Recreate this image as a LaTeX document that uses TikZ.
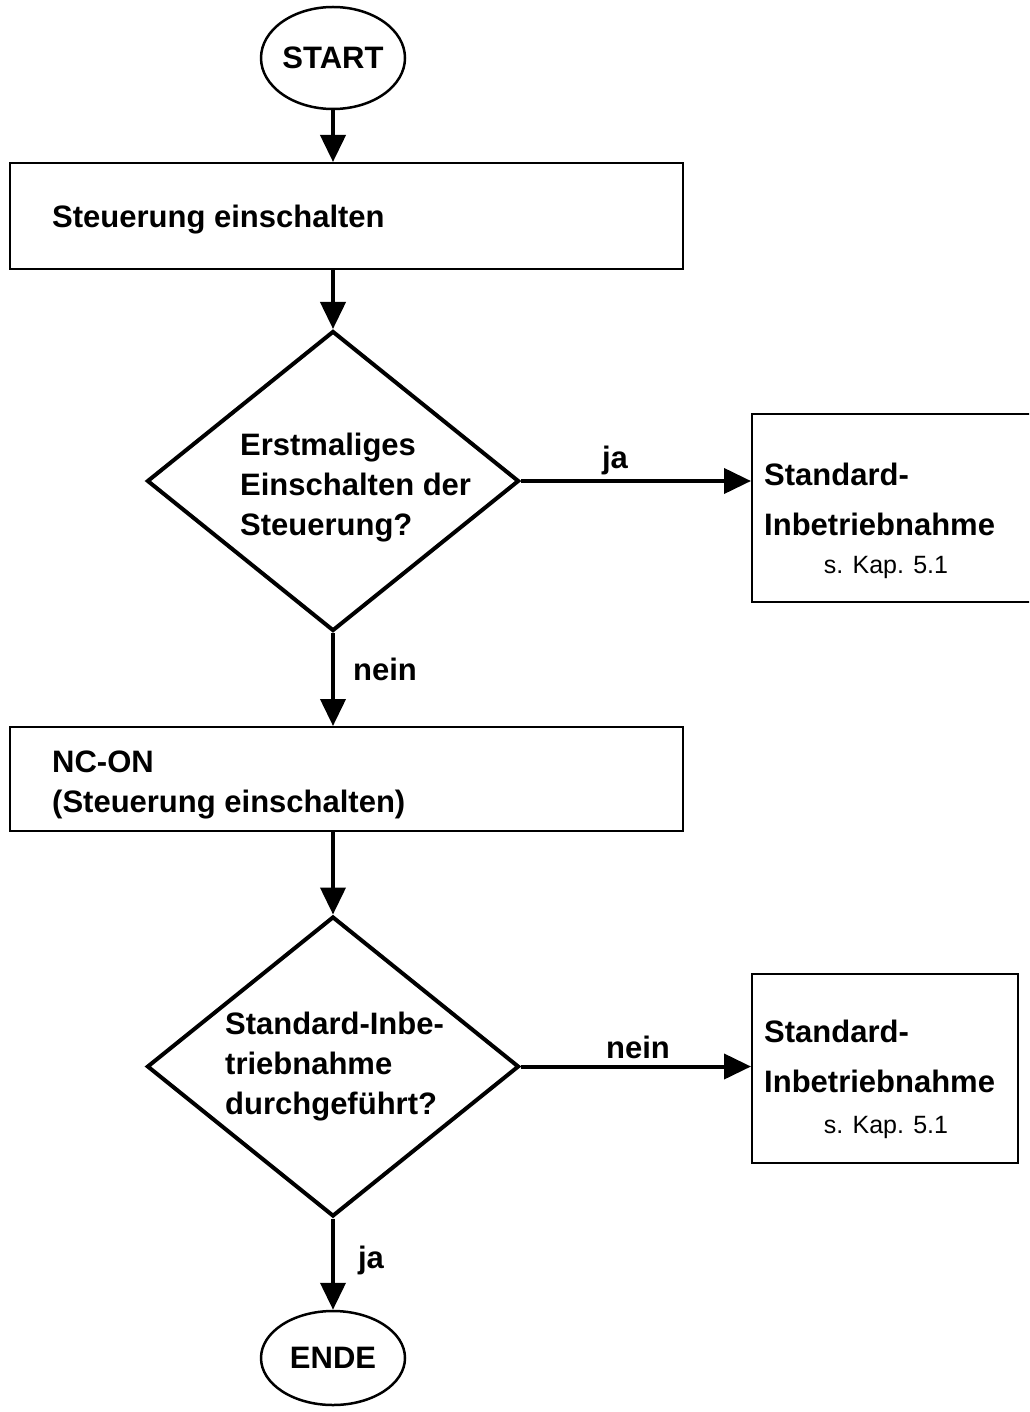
\documentclass[tikz,border=0pt]{standalone}
\usepackage{fontspec}
\setmainfont{Liberation Sans}
\usetikzlibrary{shapes.geometric,arrows.meta}
\begin{document}
\begin{tikzpicture}[x=1pt,y=-1pt,
  big/.style={font=\bfseries\fontsize{31}{40}\selectfont},
  bigwide/.style={font=\bfseries\fontsize{31}{50}\selectfont},
  small/.style={font=\fontsize{25}{30}\selectfont},
  terminal/.style={ellipse,draw,line width=2.5pt,minimum width=144pt,inner sep=0pt,big},
  stepbox/.style={rectangle,draw,line width=2pt,inner sep=0pt},
  decision/.style={diamond,draw,line width=4pt,inner sep=0pt,minimum width=372pt,minimum height=300pt},
  flow/.style={line width=4pt,-{Triangle[width=25pt,length=27pt]}},
  txt/.style={inner sep=0pt,anchor=base west,align=left,big},
  lbl/.style={inner sep=0pt,anchor=base,big}]
\useasboundingbox (0,0) rectangle (1029,1412);
\clip (0,0) rectangle (1029,1412);

% terminals
\node[terminal,minimum height=102pt] (start) at (333,58) {START};
\node[terminal,minimum height=94pt] (ende) at (333,1358) {ENDE};

% process boxes (multi-line texts are placed by the baseline of their last line)
\node[stepbox,minimum width=673pt,minimum height=106pt] (box1) at (346.5,216) {};
\node[txt] (box1t) at (52,228) {Steuerung einschalten};
\node[stepbox,minimum width=673pt,minimum height=104pt] (box2) at (346.5,779) {};
\node[txt] (box2t) at (52,812) {NC-ON\\(Steuerung einschalten)};

% decisions
\node[decision] (q1) at (333,481) {};
\node[txt] (q1t) at (240,535) {Erstmaliges\\Einschalten der\\Steuerung?};
\node[decision] (q2) at (333,1066.5) {};
\node[txt] (q2t) at (225,1114) {Standard-Inbe-\\triebnahme\\durchgeführt?};

% side boxes
\node[stepbox,minimum width=300pt,minimum height=188pt] (std1) at (902,508) {};
\node[txt,bigwide] (std1t) at (764,535) {Standard-\\Inbetriebnahme};
\node[small,inner sep=0pt,anchor=base] (std1r) at (886,573) {s. Kap. 5.1};
\node[stepbox,minimum width=266pt,minimum height=189pt] (std2) at (885,1068.5) {};
\node[txt,bigwide] (std2t) at (764,1092) {Standard-\\Inbetriebnahme};
\node[small,inner sep=0pt,anchor=base] (std2r) at (886,1133) {s. Kap. 5.1};

% connectors
\draw[flow] (start) -- (box1.north -| start.south);
\draw[flow] (box1.south -| q1.north) -- (q1.north);
\draw[flow] (q1.east) -- (q1.east -| std1.west);
\draw[flow] (q1.south) -- (box2.north -| q1.south);
\draw[flow] (box2.south -| q2.north) -- (q2.north);
\draw[flow] (q2.east) -- (q2.east -| std2.west);
\draw[flow] (q2.south) -- (ende.north);

% branch labels
\node[lbl] (ja1) at (615,468) {ja};
\node[lbl] (nein1) at (385,680) {nein};
\node[lbl] (nein2) at (638,1058) {nein};
\node[lbl] (ja2) at (371,1268) {ja};
\end{tikzpicture}
\end{document}
